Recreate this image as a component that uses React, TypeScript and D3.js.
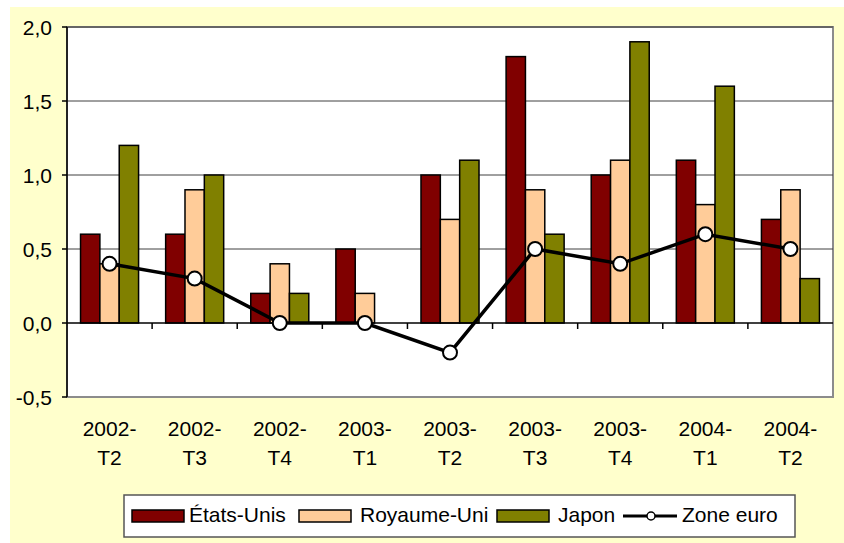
import React from "react";
import * as d3 from "d3";

const categories = ["2002-T2", "2002-T3", "2002-T4", "2003-T1", "2003-T2", "2003-T3", "2003-T4", "2004-T1", "2004-T2"];
const etatsUnis = [0.6, 0.6, 0.2, 0.5, 1.0, 1.8, 1.0, 1.1, 0.7];
const royaumeUni = [0.4, 0.9, 0.4, 0.2, 0.7, 0.9, 1.1, 0.8, 0.9];
const japon = [1.2, 1.0, 0.2, 0.0, 1.1, 0.6, 1.9, 1.6, 0.3];
const zoneEuro = [0.4, 0.3, 0.0, 0.0, -0.2, 0.5, 0.4, 0.6, 0.5];
const yTicks = [-0.5, 0, 0.5, 1.0, 1.5, 2.0];

const barSeries = [
  { name: "États-Unis", values: etatsUnis, color: "#800000" },
  { name: "Royaume-Uni", values: royaumeUni, color: "#FFCC99" },
  { name: "Japon", values: japon, color: "#808000" },
];

const W = 844, H = 543;
const plot = { left: 67, right: 833, top: 27, bottom: 397 };
const font = "'Liberation Sans', Arial, sans-serif";

export default function App() {
  const x = d3.scaleBand<string>().domain(categories).range([plot.left, plot.right]);
  const y = d3.scaleLinear().domain([-0.5, 2.0]).range([plot.bottom, plot.top]);
  const barW = x.bandwidth() / 4.4;
  const groupW = barW * 3;
  const fmt = (v: number) => v.toFixed(1).replace(".", ",");
  const center = (c: string) => (x(c) as number) + x.bandwidth() / 2;

  const line = d3.line<number>()
    .x((_, i) => center(categories[i]))
    .y(d => y(d));

  // legend layout
  const legendItems = [
    { sx: 132, tx: 189, name: "États-Unis", color: "#800000" },
    { sx: 299, tx: 360, name: "Royaume-Uni", color: "#FFCC99" },
    { sx: 497, tx: 558, name: "Japon", color: "#808000" },
  ];

  return (
    <svg width={W} height={H} style={{ position: "absolute", left: 0, top: 0, fontFamily: font }}>
      <rect x={0} y={0} width={W} height={H} fill="#ffffff" />
      <rect x={10} y={7} width={W - 10} height={H - 7} fill="#FFFFCC" />
      <rect x={plot.left} y={plot.top} width={plot.right - plot.left} height={plot.bottom - plot.top}
        fill="#ffffff" stroke="#8c8c8c" strokeWidth={2} />

      {yTicks.filter(t => t !== -0.5 && t !== 0).map(t => (
        <line key={t} x1={plot.left} x2={plot.right} y1={y(t)} y2={y(t)} stroke="#404040" strokeWidth={1} />
      ))}

      {barSeries.map((s, si) => (
        <g key={s.name}>
          {s.values.map((v, i) => {
            if (v === 0) return null;
            const bx = center(categories[i]) - groupW / 2 + si * barW;
            return (
              <rect key={i} x={bx} y={Math.min(y(v), y(0))} width={barW}
                height={Math.abs(y(0) - y(v))} fill={s.color} stroke="#000" strokeWidth={1.5} />
            );
          })}
        </g>
      ))}

      {/* axes */}
      <line x1={plot.left} x2={plot.left} y1={plot.top} y2={plot.bottom} stroke="#000" strokeWidth={1.5} />
      <line x1={plot.left} x2={plot.right} y1={y(0)} y2={y(0)} stroke="#000" strokeWidth={1.5} />
      {yTicks.map(t => (
        <g key={t}>
          <line x1={plot.left - 5} x2={plot.left} y1={y(t)} y2={y(t)} stroke="#000" strokeWidth={1.5} />
          <text x={52} y={y(t) + 7.5} textAnchor="end" fontSize={21} fill="#000">{fmt(t)}</text>
        </g>
      ))}
      {categories.slice(1).map(c => (
        <line key={c} x1={x(c)} x2={x(c)} y1={y(0)} y2={y(0) + 6} stroke="#000" strokeWidth={1.5} />
      ))}
      {categories.map(c => {
        const [a, b] = c.split("-");
        return (
          <text key={c} x={center(c)} textAnchor="middle" fontSize={21} fill="#000">
            <tspan x={center(c)} y={436}>{a}-</tspan>
            <tspan x={center(c)} y={465}>{b}</tspan>
          </text>
        );
      })}

      {/* zone euro line */}
      <path d={line(zoneEuro) || ""} fill="none" stroke="#000" strokeWidth={3.5} />
      {zoneEuro.map((v, i) => (
        <circle key={i} cx={center(categories[i])} cy={y(v)} r={7} fill="#fff" stroke="#000" strokeWidth={2} />
      ))}

      {/* legend */}
      <rect x={124} y={495} width={671} height={42} fill="#fff" stroke="#555" strokeWidth={1.5} />
      {legendItems.map(it => (
        <g key={it.name}>
          <rect x={it.sx} y={510} width={52} height={12} fill={it.color} stroke="#000" strokeWidth={1.5} />
          <text x={it.tx} y={522} fontSize={21} fill="#000">{it.name}</text>
        </g>
      ))}
      <line x1={623} x2={677} y1={516} y2={516} stroke="#000" strokeWidth={3} />
      <circle cx={651} cy={516} r={4} fill="#fff" stroke="#000" strokeWidth={1.5} />
      <text x={682} y={522} fontSize={21} fill="#000">Zone euro</text>
    </svg>
  );
}
